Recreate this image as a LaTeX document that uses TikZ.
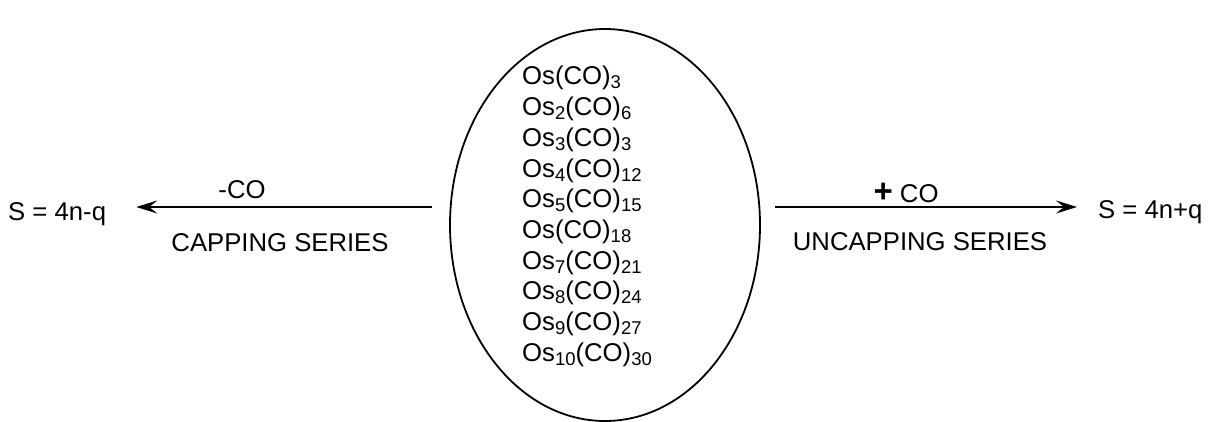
\documentclass[tikz,border=0pt]{standalone}
\usepackage{fontspec}
\setmainfont{Liberation Sans}
\usetikzlibrary{arrows.meta, positioning, shapes.geometric}
\newcommand{\sub}[1]{\raisebox{-4pt}{\fontsize{18.5}{18.5}\selectfont #1}}
\tikzset{
>={Stealth[length=21pt,width=13pt,inset=8pt]},
txt/.style={%
    inner sep=0pt,
    font=\fontsize{25.7}{30}\selectfont
},
formula/.style={txt, anchor=base west},
oval/.style={%
    ellipse,
    line width=1.8pt,
    draw=black,
    inner sep=0pt
},
reaction/.style={line width=1.4pt},
}

\begin{document}
\begin{tikzpicture}[x=1pt,y=-1pt]
	\useasboundingbox (0,0) rectangle (1209,422);
	% the cluster series
	\node[oval, minimum width=310pt, minimum height=392pt] (cluster) at (605,225) {};
	\foreach \f [count=\i from 0] in {Os(CO)\sub{3}, Os\sub{2}(CO)\sub{6}, Os\sub{3}(CO)\sub{3},
		Os\sub{4}(CO)\sub{12}, Os\sub{5}(CO)\sub{15}, Os(CO)\sub{18}, Os\sub{7}(CO)\sub{21},
		Os\sub{8}(CO)\sub{24}, Os\sub{9}(CO)\sub{27}, Os\sub{10}(CO)\sub{30}}
		\node[formula] (f\i) at (522,{85+30.7*\i}) {\f};

	% capping
	\node[txt, anchor=west] (lhs) at (8,214) {S = 4n-q};
	\coordinate (capfrom) at (432,207);
	\path (lhs.east) ++(30,0) coordinate (captip);
	\node[txt] (minusco) at (242,190) {-CO};
	\node[txt] (capping) at (280,243) {CAPPING SERIES};

	% uncapping
	\node[txt, anchor=west] (rhs) at (1098,212) {S = 4n+q};
	\coordinate (uncapfrom) at (775,207);
	\path (rhs.west) ++(-21,0) coordinate (uncaptip);
	\node[txt] (plusco) at (906,193) {{\fontsize{33}{33}\selectfont\bfseries +} CO};
	\node[txt] (uncapping) at (920,242) {UNCAPPING SERIES};

	\draw[reaction, ->] (capfrom) -- (capfrom -| captip);
	\draw[reaction, ->] (uncapfrom) -- (uncapfrom -| uncaptip);
\end{tikzpicture}
\end{document}
